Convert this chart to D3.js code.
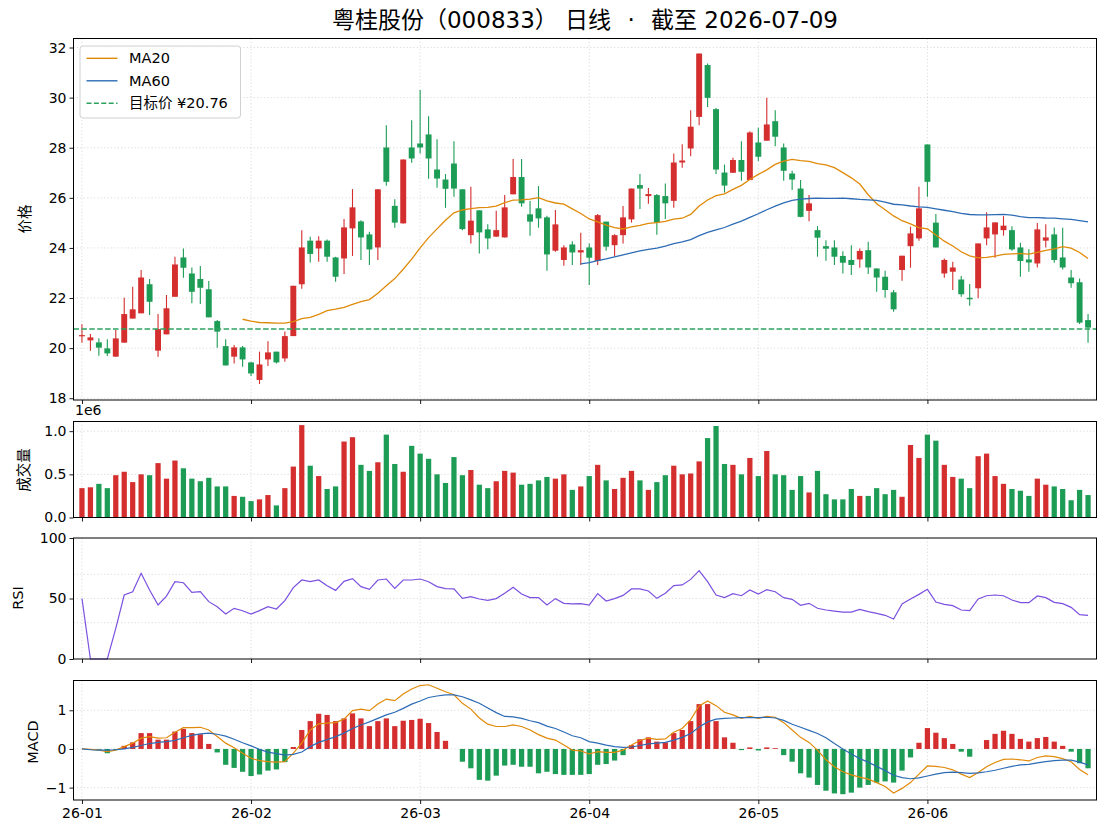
<!DOCTYPE html>
<html lang="zh">
<head>
<meta charset="utf-8">
<script src="https://cdn.jsdelivr.net/npm/d3@7"></script>
<style>
  body { margin: 0; background: #fff; }
  text { font-family: "DejaVu Sans", "Noto Sans CJK SC", sans-serif; fill: #000; }
  .grid line { stroke: #d2d2d2; stroke-width: 0.8; stroke-dasharray: 1.2,2.2; }
  .axis text { font-size: 14px; font-family: "DejaVu Sans", sans-serif; }
  .axis line { stroke: #000; stroke-width: 0.9; }
  .frame { fill: none; stroke: #000; stroke-width: 1; }
</style>
</head>
<body>
<script>
// 日线数据（读自图片，约值）
const opens = [20.48,20.31,20.23,19.99,19.66,20.22,21.18,21.39,22.55,19.90,
  20.55,22.05,23.62,22.98,22.76,22.35,21.08,20.08,19.66,20.03,
  19.43,18.73,19.55,19.86,19.59,20.48,22.55,24.29,23.98,24.29,
  23.62,23.58,24.78,25.06,24.54,24.02,28.01,25.68,24.98,28.01,
  28.17,28.53,27.13,26.73,27.37,26.34,24.51,25.50,24.74,24.45,
  24.42,26.14,26.83,25.34,25.58,25.22,23.89,23.52,24.14,23.82,
  24.02,23.48,25.05,24.11,24.51,25.14,26.51,26.07,26.11,26.07,
  25.88,27.41,27.97,29.23,31.30,29.54,27.01,27.00,27.51,26.71,
  28.21,28.28,29.06,28.01,26.97,26.37,25.48,24.71,24.07,24.02,
  23.68,23.52,23.54,23.91,23.18,22.85,22.23,23.12,24.07,24.38,
  28.13,25.01,22.98,23.05,22.74,22.01,22.39,24.38,24.54,24.71,
  24.71,24.02,23.54,23.38,24.29,24.54,23.62,22.82,22.63,21.12];
const highs = [20.95,20.56,20.39,20.35,20.72,22.01,22.45,23.12,22.76,21.36,
  22.12,23.65,23.98,23.22,23.28,22.68,21.12,20.35,20.13,20.09,
  19.46,19.86,20.28,19.86,20.66,22.49,24.71,24.45,24.47,24.34,
  23.65,25.15,26.35,25.11,24.65,26.34,28.90,25.94,27.53,29.10,
  30.30,29.26,28.34,26.95,28.26,26.34,26.44,25.50,24.95,25.48,
  26.11,27.55,27.55,25.87,26.47,25.28,25.51,24.11,24.27,24.61,
  24.18,25.35,25.05,24.55,25.67,26.37,26.95,26.39,26.15,26.57,
  27.77,28.14,29.50,31.76,31.36,29.59,27.33,27.60,28.26,28.66,
  28.80,29.99,29.50,28.17,27.08,26.71,26.11,24.87,24.31,24.31,
  23.87,24.11,23.98,24.25,23.18,23.09,22.32,23.69,24.85,26.44,
  28.13,25.35,23.58,23.45,22.88,22.56,24.18,25.42,25.02,25.27,
  24.87,24.21,23.95,25.00,24.95,24.82,24.81,23.12,22.78,21.36];
const lows = [20.22,19.90,19.70,19.69,19.66,20.22,21.18,21.39,21.32,19.66,
  20.55,22.05,22.81,21.79,21.76,21.23,20.02,19.31,19.39,19.26,
  18.89,18.57,19.29,19.39,19.46,20.48,22.37,23.42,23.45,23.45,
  22.65,22.96,23.68,23.52,23.32,23.52,26.48,24.81,24.98,27.40,
  27.77,26.76,26.40,25.60,26.04,24.71,24.18,23.78,23.95,24.45,
  24.42,26.14,25.64,24.49,24.81,23.09,23.85,23.29,23.32,23.32,
  22.52,23.32,23.89,23.68,24.18,25.01,25.55,25.76,24.53,25.15,
  25.60,27.20,27.66,28.90,29.63,26.95,26.21,27.00,26.68,26.71,
  27.47,28.28,28.06,26.68,26.31,25.22,25.07,23.65,23.49,23.32,
  22.98,22.92,23.21,22.96,22.25,22.01,21.45,22.69,23.21,24.29,
  26.04,24.02,22.81,22.32,22.05,21.69,21.99,24.11,23.61,24.49,
  23.89,22.85,23.05,23.22,24.02,23.41,23.14,22.41,20.96,20.22];
const closes = [20.52,20.43,20.02,19.79,20.39,21.36,21.55,22.82,21.85,20.76,
  21.59,23.34,23.21,22.25,22.41,21.23,20.66,19.31,20.03,19.55,
  18.99,19.35,19.83,19.43,20.48,22.49,24.02,23.76,24.29,23.65,
  22.85,24.82,25.62,24.42,23.94,26.34,26.64,25.01,27.53,27.57,
  28.01,27.57,26.77,26.36,26.37,24.75,25.09,24.62,24.38,24.71,
  25.62,26.83,25.78,25.05,25.18,23.74,24.94,24.02,23.82,23.91,
  23.61,25.31,24.05,24.51,25.22,26.37,26.37,26.15,25.01,25.78,
  27.41,27.49,28.84,31.76,29.99,27.13,26.49,27.51,27.04,28.61,
  27.64,28.93,28.44,27.08,26.73,25.24,25.78,24.41,23.97,23.65,
  23.41,23.32,23.88,23.22,22.82,22.32,21.55,23.69,24.58,25.58,
  26.64,24.02,23.52,23.22,22.15,21.95,24.18,24.82,25.02,24.89,
  23.94,23.48,23.42,24.74,24.42,23.52,23.22,22.59,21.02,20.82];
// 成交量（×1e6）
const volumes = [0.34,0.35,0.39,0.34,0.49,0.53,0.41,0.50,0.49,0.63,
  0.45,0.66,0.57,0.45,0.42,0.46,0.36,0.36,0.25,0.24,
  0.19,0.21,0.26,0.14,0.34,0.59,1.07,0.60,0.48,0.33,
  0.36,0.88,0.93,0.61,0.54,0.64,0.96,0.62,0.53,0.83,
  0.74,0.68,0.50,0.40,0.70,0.49,0.55,0.38,0.34,0.42,
  0.54,0.52,0.38,0.39,0.43,0.47,0.45,0.50,0.32,0.36,
  0.48,0.61,0.43,0.33,0.46,0.54,0.43,0.32,0.41,0.49,
  0.60,0.50,0.51,0.65,0.92,1.06,0.62,0.61,0.50,0.69,
  0.48,0.77,0.50,0.49,0.32,0.48,0.29,0.54,0.27,0.21,
  0.21,0.33,0.25,0.25,0.34,0.27,0.32,0.24,0.84,0.69,
  0.96,0.89,0.61,0.47,0.45,0.34,0.71,0.74,0.48,0.39,
  0.33,0.31,0.25,0.45,0.38,0.36,0.33,0.20,0.32,0.26];
const rsi = [50,0,0,0,25.3,52.9,55.6,70.8,57,44.6,
  52,63.9,63,55,55.6,47.4,43.2,37.2,41.9,39.9,
  37.2,40,43.2,41.3,48.2,59,65.3,64,65.3,60.5,
  56.7,64.2,66.4,59.8,57.6,65.3,66.1,58.4,65.3,65.3,
  66.1,63.9,59.8,58.1,57.9,50.1,51.5,49.6,48.5,49.9,
  54.3,59.2,53.7,50.7,50.7,44.6,49.9,46.0,45.5,45.7,
  44.6,54.0,47.9,49.9,52.6,57.9,57.9,56.2,50.1,54.3,
  60.6,61.2,65.8,73.0,63.9,52.9,50.7,54.0,52.3,57.0,
  53.7,57.3,55.6,50.7,49.3,44.4,46.0,41.9,40.5,39.6,
  38.8,38.8,41.0,39.1,37.7,36.1,33.1,45.5,49.6,53.4,
  57.6,47.1,45.2,44.1,40.5,40.0,49.6,52.3,52.9,52.3,
  48.8,46.6,46.6,52.1,50.7,46.8,45.7,42.7,36.6,36.1];
const dif = [0,-0.01,-0.03,-0.07,-0.03,0.06,0.15,0.28,0.32,0.28,
  0.29,0.43,0.55,0.55,0.56,0.49,0.32,0.15,0.03,-0.11,
  -0.24,-0.30,-0.33,-0.34,-0.33,-0.11,0.15,0.49,0.65,0.67,
  0.68,0.77,0.99,1.03,0.99,1.16,1.29,1.25,1.42,1.55,
  1.64,1.66,1.57,1.48,1.40,1.18,1.03,0.80,0.64,0.58,
  0.58,0.62,0.58,0.49,0.37,0.28,0.23,0.10,-0.03,-0.05,
  -0.13,-0.07,-0.09,-0.09,-0.03,0.10,0.22,0.28,0.25,0.26,
  0.43,0.53,0.76,1.11,1.24,1.12,0.95,0.88,0.79,0.84,
  0.79,0.84,0.82,0.68,0.49,0.30,0.17,-0.03,-0.28,-0.46,
  -0.59,-0.67,-0.73,-0.78,-0.87,-0.97,-1.14,-1.02,-0.87,-0.65,
  -0.44,-0.45,-0.48,-0.54,-0.65,-0.74,-0.61,-0.46,-0.35,-0.27,
  -0.26,-0.28,-0.31,-0.22,-0.18,-0.20,-0.25,-0.33,-0.53,-0.67];
const dea = [0,-0.02,-0.03,-0.03,-0.02,0.0,0.04,0.09,0.14,0.17,
  0.19,0.22,0.29,0.35,0.39,0.41,0.38,0.33,0.25,0.16,
  0.08,-0.01,-0.08,-0.12,-0.16,-0.14,-0.08,0.06,0.17,0.24,
  0.32,0.41,0.53,0.62,0.70,0.79,0.88,0.95,1.05,1.16,
  1.24,1.33,1.37,1.40,1.40,1.35,1.27,1.18,1.06,0.94,
  0.84,0.83,0.79,0.73,0.68,0.59,0.53,0.44,0.34,0.29,
  0.19,0.15,0.10,0.06,0.04,0.05,0.09,0.13,0.15,0.17,
  0.23,0.30,0.40,0.57,0.70,0.77,0.79,0.80,0.81,0.81,
  0.81,0.82,0.80,0.74,0.64,0.56,0.48,0.40,0.29,0.14,
  0.0,-0.13,-0.25,-0.34,-0.45,-0.56,-0.68,-0.74,-0.77,-0.75,
  -0.70,-0.65,-0.61,-0.60,-0.61,-0.63,-0.62,-0.59,-0.55,-0.50,
  -0.45,-0.41,-0.40,-0.36,-0.33,-0.30,-0.29,-0.29,-0.34,-0.41];
const hist = [0,0,-0.02,-0.11,-0.03,0.08,0.17,0.41,0.41,0.24,
  0.24,0.45,0.52,0.41,0.38,0.13,-0.09,-0.41,-0.49,-0.59,
  -0.70,-0.66,-0.56,-0.53,-0.34,0.05,0.49,0.72,0.91,0.88,
  0.72,0.79,0.92,0.79,0.59,0.72,0.79,0.59,0.73,0.75,
  0.78,0.67,0.44,0.21,0,-0.33,-0.50,-0.80,-0.82,-0.69,
  -0.43,-0.41,-0.46,-0.46,-0.63,-0.59,-0.65,-0.67,-0.67,-0.67,
  -0.65,-0.41,-0.39,-0.30,-0.16,0.10,0.25,0.30,0.19,0.17,
  0.41,0.49,0.72,1.16,1.16,0.72,0.30,0.16,-0.03,0.04,
  -0.04,0.04,0.02,-0.16,-0.33,-0.63,-0.74,-0.93,-1.08,-1.15,
  -1.17,-1.13,-1.0,-0.93,-0.87,-0.84,-0.87,-0.56,-0.22,0.16,
  0.54,0.42,0.28,0.13,-0.07,-0.20,0,0.23,0.39,0.47,
  0.39,0.26,0.19,0.28,0.31,0.19,0.08,-0.07,-0.37,-0.50];
const targetPrice = 20.76;
const xTickIdx = [0, 20, 40, 60, 80, 100];
const priceTicks = [18, 20, 22, 24, 26, 28, 30, 32];
const volTicks = [0, 0.5e6, 1e6];
const rsiTicks = [0, 50, 100];
const macdTicks = [-1, 0, 1];

const RED = "#d42e2e", GREEN = "#1c9c55", ORANGE = "#e08a0a", BLUE = "#2d6cb5", PURPLE = "#7b50e0";

// 交易日：截至 2026-07-09 的 120 个工作日
const dates = [];
for (let d = new Date(2026, 6, 9); dates.length < closes.length; d = d3.timeDay.offset(d, -1)) {
  if (d.getDay() !== 0 && d.getDay() !== 6) dates.unshift(d);
}
const fmt = d3.timeFormat("%y-%m");

function movingAvg(arr, n) {
  return arr.map((v, i) => i < n - 1 ? null : d3.mean(arr.slice(i - n + 1, i + 1)));
}
const ma20 = movingAvg(closes, 20);
const ma60 = movingAvg(closes, 60);

const svg = d3.select("body").append("svg").attr("width", 1106).attr("height", 837);
const left = 73.5, right = 1096.5;
const x = d3.scaleLinear().domain([-1, 120]).range([left, right]);
const step = x(1) - x(0);
const idx = d3.range(closes.length);
const up = i => closes[i] >= opens[i];

const panels = {
  price: {top: 38.5, bottom: 400},
  vol: {top: 421.5, bottom: 517.5},
  rsi: {top: 538, bottom: 659},
  macd: {top: 680.5, bottom: 800}
};
const yP = d3.scaleLinear().domain([17.93, 32.36]).range([panels.price.bottom, panels.price.top]);
const yV = d3.scaleLinear().domain([0, 1.112e6]).range([panels.vol.bottom, panels.vol.top]);
const yR = d3.scaleLinear().domain([0, 100]).range([panels.rsi.bottom, panels.rsi.top]);
const yM = d3.scaleLinear().domain([-1.32, 1.77]).range([panels.macd.bottom, panels.macd.top]);

function grid(p, y, yVals) {
  const g = svg.append("g").attr("class", "grid");
  g.selectAll(".gx").data(xTickIdx).enter().append("line")
    .attr("x1", d => x(d)).attr("x2", d => x(d))
    .attr("y1", p.top).attr("y2", p.bottom);
  g.selectAll(".gy").data(yVals).enter().append("line")
    .attr("x1", left).attr("x2", right)
    .attr("y1", d => y(d)).attr("y2", d => y(d));
}
grid(panels.price, yP, priceTicks);
grid(panels.vol, yV, volTicks);
grid(panels.rsi, yR, [30, 50, 70]);
grid(panels.macd, yM, macdTicks);

// 蜡烛图
const candles = svg.append("g");
candles.selectAll("line").data(idx).enter().append("line")
  .attr("x1", i => x(i)).attr("x2", i => x(i))
  .attr("y1", i => yP(highs[i])).attr("y2", i => yP(lows[i]))
  .attr("stroke", i => up(i) ? RED : GREEN).attr("stroke-width", 1.1);
const bw = step * 0.7;
candles.selectAll("rect").data(idx).enter().append("rect")
  .attr("x", i => x(i) - bw / 2).attr("width", bw)
  .attr("y", i => yP(Math.max(opens[i], closes[i])))
  .attr("height", i => Math.max(1.2, Math.abs(yP(opens[i]) - yP(closes[i]))))
  .attr("fill", i => up(i) ? RED : GREEN);

const line = y => d3.line().defined(d => d[1] != null).x(d => x(d[0])).y(d => y(d[1]));
svg.append("path").attr("d", line(yP)(ma20.map((v, i) => [i, v])))
  .attr("fill", "none").attr("stroke", ORANGE).attr("stroke-width", 1.3);
svg.append("path").attr("d", line(yP)(ma60.map((v, i) => [i, v])))
  .attr("fill", "none").attr("stroke", BLUE).attr("stroke-width", 1.3);
svg.append("line").attr("x1", left).attr("x2", right)
  .attr("y1", yP(targetPrice)).attr("y2", yP(targetPrice))
  .attr("stroke", "#2ca25f").attr("stroke-width", 1.5).attr("stroke-dasharray", "5.5,2.4");

// 成交量
const vw = step * 0.62;
svg.append("g").selectAll("rect").data(idx).enter().append("rect")
  .attr("x", i => x(i) - vw / 2).attr("width", vw)
  .attr("y", i => yV(volumes[i] * 1e6))
  .attr("height", i => yV(0) - yV(volumes[i] * 1e6))
  .attr("fill", i => up(i) ? RED : GREEN);

// RSI
svg.append("path").attr("d", line(yR)(rsi.map((v, i) => [i, v])))
  .attr("fill", "none").attr("stroke", PURPLE).attr("stroke-width", 1.2);

// MACD
svg.append("g").selectAll("rect").data(idx).enter().append("rect")
  .attr("x", i => x(i) - vw / 2).attr("width", vw)
  .attr("y", i => yM(Math.max(0, hist[i])))
  .attr("height", i => Math.abs(yM(hist[i]) - yM(0)))
  .attr("fill", i => hist[i] >= 0 ? RED : GREEN);
svg.append("path").attr("d", line(yM)(dif.map((v, i) => [i, v])))
  .attr("fill", "none").attr("stroke", ORANGE).attr("stroke-width", 1.2);
svg.append("path").attr("d", line(yM)(dea.map((v, i) => [i, v])))
  .attr("fill", "none").attr("stroke", BLUE).attr("stroke-width", 1.2);

// 坐标轴与边框
function axes(p, y, ticks, tf, showX) {
  svg.append("g").attr("class", "axis").attr("transform", `translate(${left},0)`)
    .call(d3.axisLeft(y).tickValues(ticks).tickSize(4).tickPadding(3).tickFormat(tf))
    .call(g => g.select(".domain").remove());
  svg.append("g").attr("class", "axis").attr("transform", `translate(0,${p.bottom})`)
    .call(d3.axisBottom(x).tickValues(xTickIdx).tickSize(4).tickPadding(4)
      .tickFormat(showX ? (i => fmt(dates[i])) : () => ""))
    .call(g => g.select(".domain").remove());
  svg.append("rect").attr("class", "frame").attr("x", left).attr("y", p.top)
    .attr("width", right - left).attr("height", p.bottom - p.top);
}
axes(panels.price, yP, priceTicks, d3.format("d"), false);
axes(panels.vol, yV, volTicks, v => (v / 1e6).toFixed(1), false);
axes(panels.rsi, yR, rsiTicks, d3.format("d"), false);
axes(panels.macd, yM, macdTicks, d3.format("d"), true);

svg.append("text").attr("x", 75).attr("y", 415).style("font-size", "14px").text("1e6");

function ylabel(txt, xp, yp) {
  svg.append("text").attr("transform", `translate(${xp},${yp}) rotate(-90)`)
    .attr("text-anchor", "middle").attr("dominant-baseline", "central")
    .style("font-size", "14.5px").text(txt);
}
ylabel("价格", 25, 219);
ylabel("成交量", 24, 470);
ylabel("RSI", 18, 598);
ylabel("MACD", 32.5, 742);

// 标题
const title = svg.append("text").attr("x", (left + right) / 2).attr("y", 28)
  .attr("text-anchor", "middle").style("font-size", "23px");
title.append("tspan").text("粤桂股份（000833） 日线 ");
title.append("tspan").attr("dx", 9).text("·");
title.append("tspan").attr("dx", 9).text(" 截至 2026-07-09");

// 图例
const lg = svg.append("g");
lg.append("rect").attr("x", 80).attr("y", 46).attr("width", 160.5).attr("height", 72)
  .attr("rx", 3).attr("fill", "rgba(255,255,255,0.85)").attr("stroke", "#d0d0d0");
const legendItems = [
  {label: "MA20", color: ORANGE, dash: null},
  {label: "MA60", color: BLUE, dash: null},
  {label: "目标价 ¥20.76", color: "#2ca25f", dash: "5,2.4"}
];
legendItems.forEach((d, k) => {
  const yy = 58.3 + k * 22.5;
  lg.append("line").attr("x1", 86.5).attr("x2", 117.5).attr("y1", yy).attr("y2", yy)
    .attr("stroke", d.color).attr("stroke-width", d.dash ? 1.5 : 1.4)
    .attr("stroke-dasharray", d.dash);
  lg.append("text").attr("x", 129).attr("y", yy).attr("dominant-baseline", "central")
    .style("font-size", "14.5px").text(d.label);
});
</script>
</body>
</html>
